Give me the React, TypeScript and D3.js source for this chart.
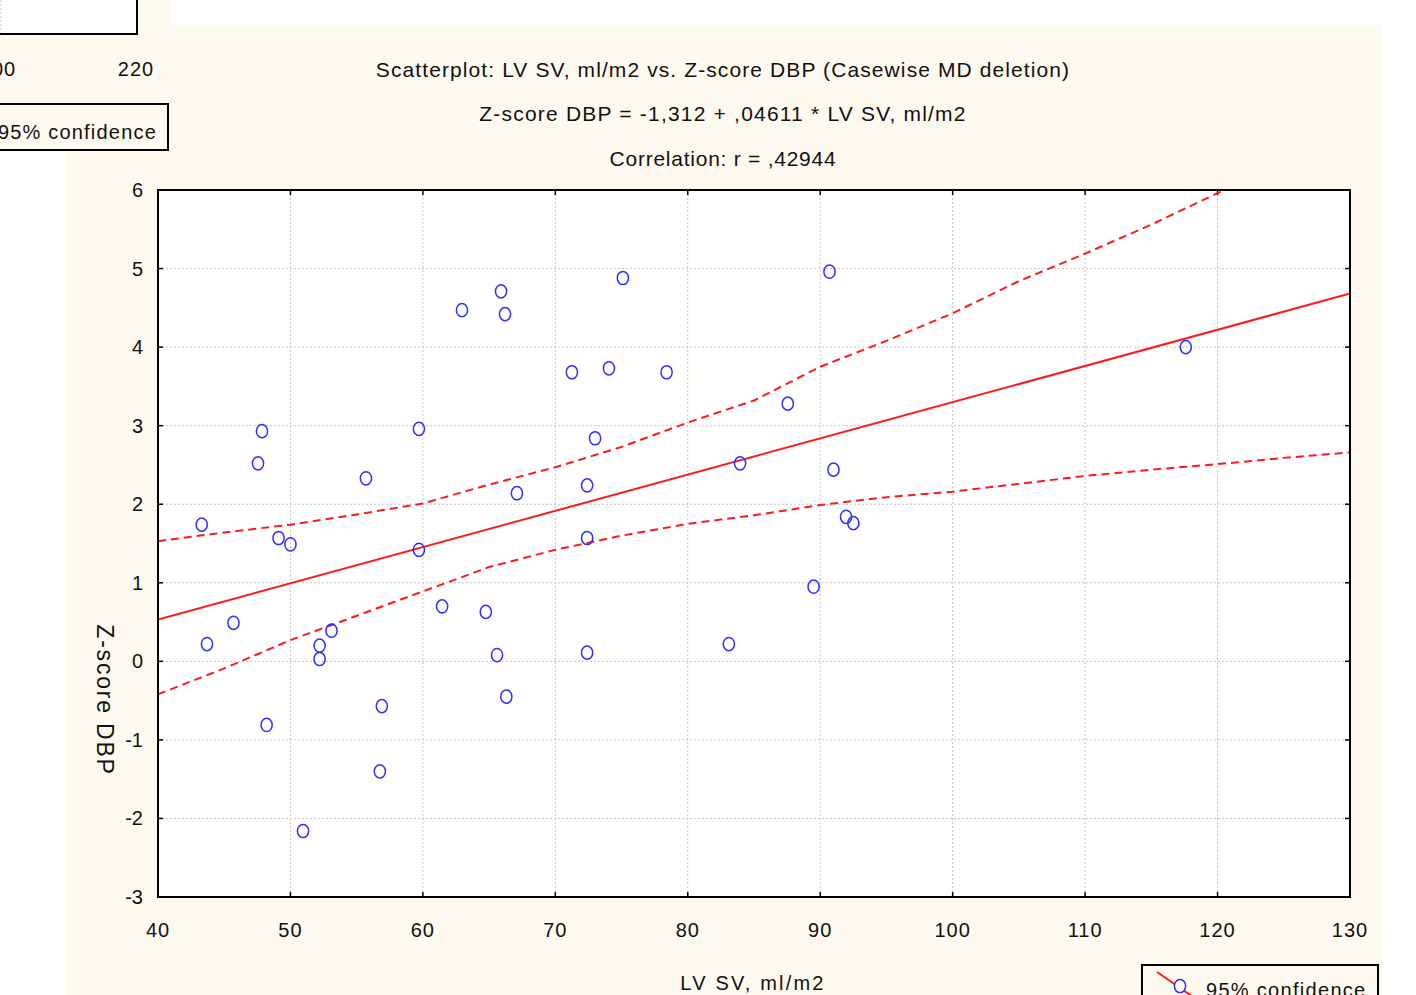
import React from 'react';
import * as d3 from 'd3';

// LV SV, ml/m2 (x) and Z-score DBP (y)
const lvsv = [
  43.3, 43.7, 45.7, 47.55, 47.85, 48.2, 49.1, 50.0, 50.95, 52.2, 52.2, 53.1, 55.7, 56.75,
  56.9, 59.7, 59.7, 61.45, 62.95, 64.75, 65.6, 65.9, 66.2, 66.3, 67.1, 71.25, 72.4, 72.4,
  72.4, 73.0, 74.05, 75.1, 78.4, 83.1, 83.95, 87.55, 89.5, 90.7, 91.0, 91.95, 92.5, 117.6,
];
const zdbp = [
  1.74, 0.22, 0.49, 2.52, 2.93, -0.81, 1.57, 1.49, -2.16, 0.2, 0.03, 0.39, 2.33, -1.4,
  -0.57, 2.96, 1.42, 0.7, 4.47, 0.63, 0.08, 4.71, 4.42, -0.45, 2.14, 3.68, 2.24, 1.57,
  0.11, 2.84, 3.73, 4.88, 3.68, 0.22, 2.52, 3.28, 0.95, 4.96, 2.44, 1.84, 1.76, 4.0,
];

// regression from the subtitle: Z-score DBP = -1,312 + ,04611 * LV SV
const intercept = -1.312;
const slope = 0.04611;

// 95% confidence band
const bandX = [40, 45, 50, 55, 60, 65, 70, 75, 80, 85, 90, 95, 100, 105, 110, 115, 120, 125, 130];
const bandUpper = [1.53, 1.64, 1.74, 1.87, 2.01, 2.25, 2.47, 2.73, 3.04, 3.32, 3.75, 4.08, 4.43, 4.84, 5.19, 5.56, 5.96, 6.3, 6.68];
const bandLower = [-0.42, -0.09, 0.27, 0.58, 0.89, 1.2, 1.42, 1.6, 1.75, 1.86, 1.99, 2.09, 2.16, 2.26, 2.36, 2.44, 2.51, 2.59, 2.66];

const xTicks = [40, 50, 60, 70, 80, 90, 100, 110, 120, 130];
const yTicks = [-3, -2, -1, 0, 1, 2, 3, 4, 5, 6];

const titleLines = [
  'Scatterplot: LV SV, ml/m2 vs. Z-score DBP (Casewise MD deletion)',
  'Z-score DBP = -1,312 + ,04611 * LV SV, ml/m2',
  'Correlation: r = ,42944',
];
const titleSpacing = [1.1, 1.2, 0.75];

const W = 1416;
const H = 995;
const cream = '#fdf9ee';
const ink = '#111';
const font = '"Liberation Sans", Arial, sans-serif';

export default function App() {
  const x = d3.scaleLinear().domain([40, 130]).range([158, 1350]);
  const y = d3.scaleLinear().domain([-3, 6]).range([897, 190]);

  const line = d3.line<number>().x((d) => x(d)).y((d) => y(intercept + slope * d));
  const upper = d3.line<number>().x((d) => x(d)).y((_, i) => y(bandUpper[i]));
  const lower = d3.line<number>().x((d) => x(d)).y((_, i) => y(bandLower[i]));

  const [x0, x1] = x.range();
  const [y0, y1] = y.range();

  return (
    <svg width={W} height={H} style={{ position: 'fixed', left: 0, top: 0, background: '#fff' }}
      fontFamily={font} fill={ink}>
      <defs>
        <clipPath id="plot"><rect x={x0} y={y1} width={x1 - x0} height={y0 - y1} /></clipPath>
      </defs>

      {/* this chart's background */}
      <rect x={66} y={25} width={1316} height={H - 25} fill={cream} />

      {/* leftover of the previous chart, top-left */}
      <rect x={0} y={0} width={170} height={152} fill={cream} />
      <rect x={-4} y={-10} width={141} height={44} fill="#fff" stroke="#000" strokeWidth={2} />
      <line x1={1} x2={1} y1={0} y2={33} stroke="#c4c4c4" strokeDasharray="2,2" />
      <text x={-2} y={76} fontSize={20} textAnchor="middle" letterSpacing={1}>200</text>
      <text x={136} y={76} fontSize={20} textAnchor="middle" letterSpacing={1}>220</text>
      <rect x={-10} y={104} width={178} height={46} fill={cream} stroke="#000" strokeWidth={2} />
      <text x={157} y={139} fontSize={20} textAnchor="end" letterSpacing={1.2}>95% confidence</text>

      {titleLines.map((t, i) => (
        <text key={i} x={723} y={76.5 + i * 44.5} fontSize={21} textAnchor="middle" letterSpacing={titleSpacing[i]}>{t}</text>
      ))}

      <rect x={x0} y={y1} width={x1 - x0} height={y0 - y1} fill="#fff" />

      {/* grid */}
      {xTicks.slice(1, -1).map((t) => (
        <line key={'gx' + t} x1={x(t)} x2={x(t)} y1={y1} y2={y0} stroke="#c4c4c4" strokeWidth={1} strokeDasharray="2,2" />
      ))}
      {yTicks.slice(1, -1).map((t) => (
        <line key={'gy' + t} x1={x0} x2={x1} y1={y(t)} y2={y(t)} stroke="#c4c4c4" strokeWidth={1} strokeDasharray="2,2" />
      ))}

      {/* ticks, pointing inward on all four sides */}
      {xTicks.map((t) => (
        <g key={'tx' + t} stroke="#000" strokeWidth={1.5}>
          <line x1={x(t)} x2={x(t)} y1={y0} y2={y0 - 5} />
          <line x1={x(t)} x2={x(t)} y1={y1} y2={y1 + 5} />
        </g>
      ))}
      {yTicks.map((t) => (
        <g key={'ty' + t} stroke="#000" strokeWidth={1.5}>
          <line x1={x0} x2={x0 + 5} y1={y(t)} y2={y(t)} />
          <line x1={x1} x2={x1 - 5} y1={y(t)} y2={y(t)} />
        </g>
      ))}

      <g clipPath="url(#plot)" fill="none" stroke="#ff1a1a">
        <path d={upper(bandX) || ''} strokeWidth={2} strokeDasharray="8,5" />
        <path d={lower(bandX) || ''} strokeWidth={2} strokeDasharray="8,5" />
        <path d={line([40, 130]) || ''} strokeWidth={2} />
      </g>

      <g fill="none" stroke="#2f2fff" strokeWidth={1.5}>
        {lvsv.map((v, i) => (
          <ellipse key={i} cx={x(v)} cy={y(zdbp[i])} rx={5.6} ry={6.6} />
        ))}
      </g>

      <rect x={x0} y={y1} width={x1 - x0} height={y0 - y1} fill="none" stroke="#000" strokeWidth={2} />

      {xTicks.map((t) => (
        <text key={'lx' + t} x={x(t)} y={937} fontSize={20} textAnchor="middle" letterSpacing={1}>{t}</text>
      ))}
      {yTicks.map((t) => (
        <text key={'ly' + t} x={143} y={y(t)} dy="0.35em" fontSize={20} textAnchor="end">{t}</text>
      ))}

      <text x={753} y={990} fontSize={20} textAnchor="middle" letterSpacing={2.2}>LV SV, ml/m2</text>
      <text transform="translate(97,700) rotate(90)" fontSize={23} textAnchor="middle" letterSpacing={1.8}>Z-score DBP</text>

      {/* legend, cut by the page edge */}
      <rect x={1142} y={965} width={236} height={50} fill={cream} stroke="#000" strokeWidth={2} />
      <line x1={1157} y1={972} x2={1196} y2={999} stroke="#ff1a1a" strokeWidth={2} />
      <ellipse cx={1180} cy={986} rx={5.6} ry={6.6} fill="#fff" stroke="#2f2fff" strokeWidth={1.5} />
      <text x={1206} y={997} fontSize={20} letterSpacing={1.3}>95% confidence</text>
    </svg>
  );
}
